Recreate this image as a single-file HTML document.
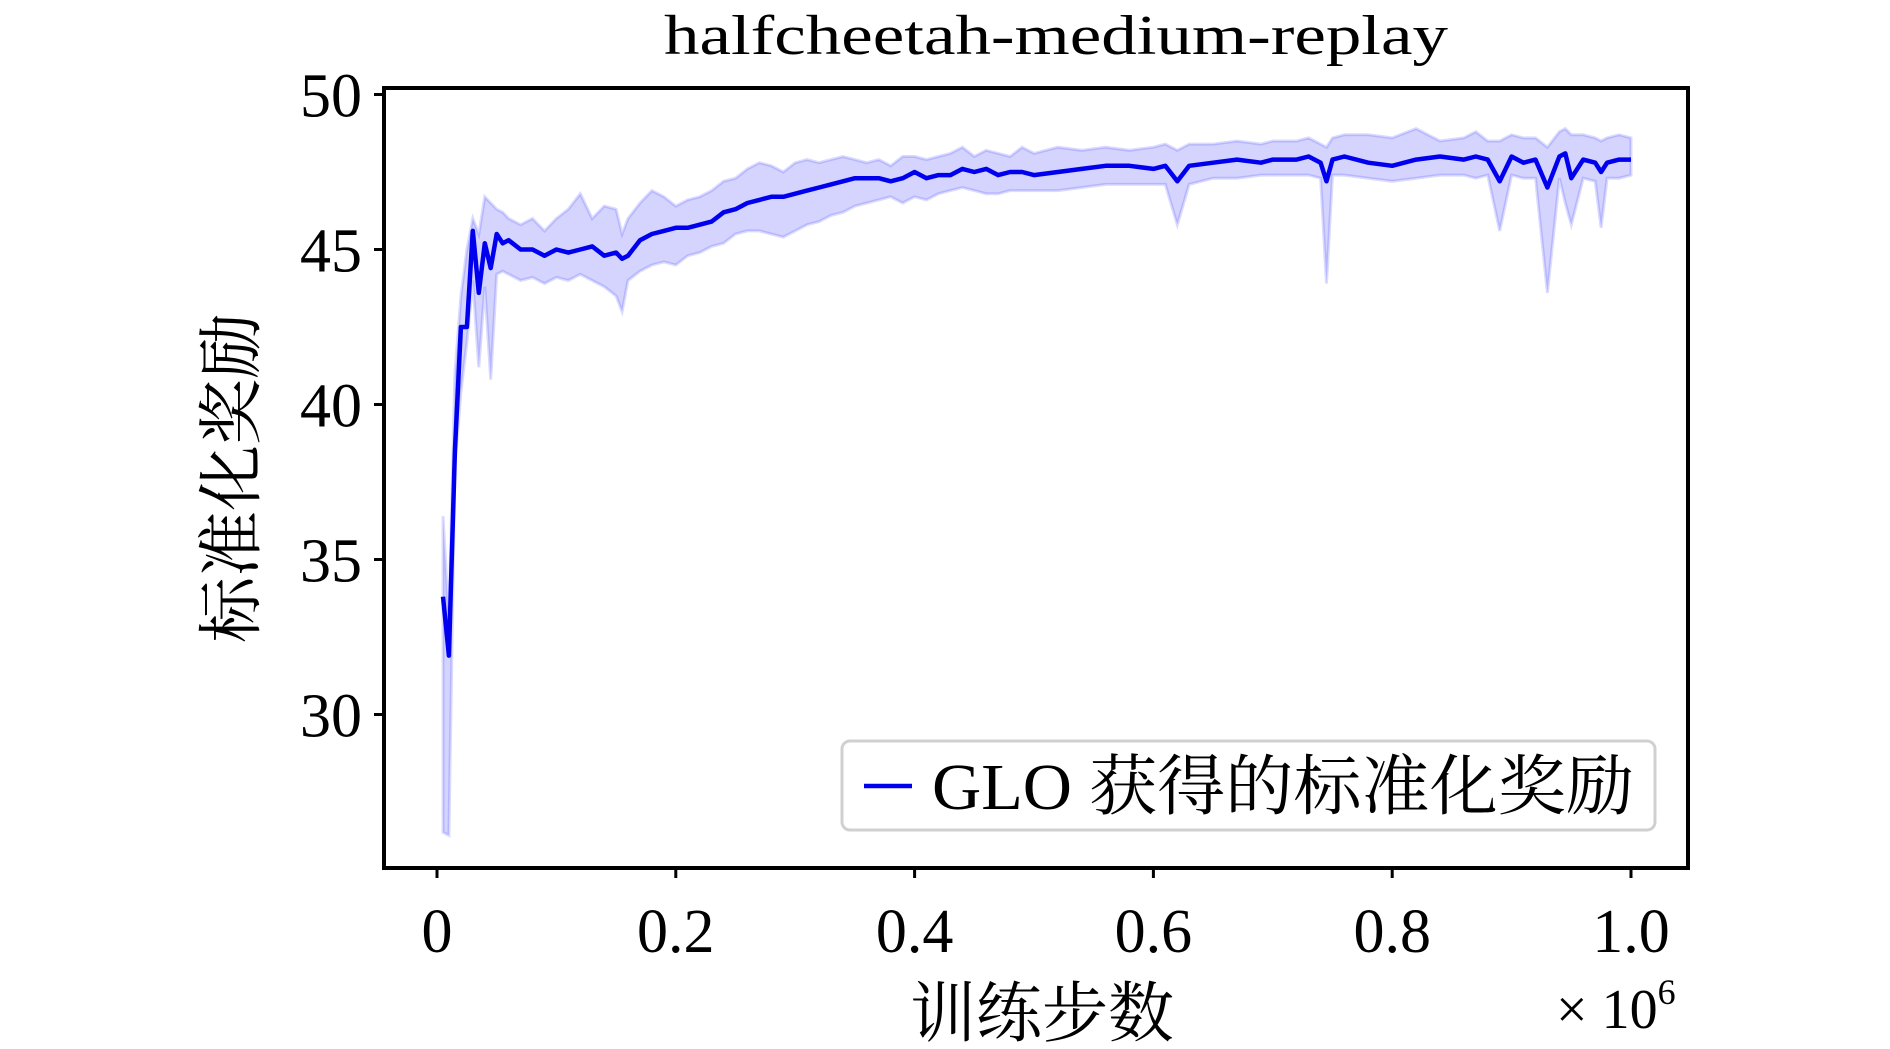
<!DOCTYPE html>
<html><head><meta charset="utf-8"><style>
html,body{margin:0;padding:0;background:#fff;}
svg text{font-family:"Liberation Serif","Noto Serif CJK SC",serif;fill:#000;}
.cjk{font-family:"Liberation Serif","Noto Serif CJK SC","Noto Sans CJK SC",serif;}
</style></head><body>
<svg id="chart" width="1890" height="1044" viewBox="0 0 1890 1044" xmlns="http://www.w3.org/2000/svg">
<text x="664" y="54" font-size="56" textLength="784" lengthAdjust="spacingAndGlyphs">halfcheetah-medium-replay</text>
<g id="plot"></g>
<rect x="384" y="88" width="1304" height="780" fill="none" stroke="#000" stroke-width="4"/>
<g id="axes"></g>
<text class="cjk" font-size="66" text-anchor="middle" transform="translate(254,478) rotate(-90)">标准化奖励</text>
<text class="cjk" x="1042" y="1036" font-size="66" text-anchor="middle">训练步数</text>
<text x="1556" y="1028" font-size="56">× 10<tspan font-size="36" dy="-24">6</tspan></text>
<g>
<rect x="842" y="741" width="813" height="89" rx="8" fill="#fff" stroke="#d0d0d0" stroke-width="3"/>
<line x1="864" y1="786" x2="912" y2="786" stroke="#0000ee" stroke-width="4.5"/>
<text class="cjk" x="932" y="809" font-size="66" textLength="702" lengthAdjust="spacingAndGlyphs">GLO 获得的标准化奖励</text>
</g>
</svg>
<script>
const xs=[0.005,0.01,0.015,0.02,0.025,0.03,0.035,0.04,0.045,0.05,0.055,0.06,0.07,0.08,0.09,0.10,0.11,0.12,0.13,0.14,0.15,0.155,0.16,0.17,0.18,0.19,0.20,0.21,0.22,0.23,0.24,0.25,0.26,0.27,0.28,0.29,0.30,0.31,0.32,0.33,0.34,0.35,0.36,0.37,0.38,0.39,0.40,0.41,0.42,0.43,0.44,0.45,0.46,0.47,0.48,0.49,0.50,0.52,0.54,0.56,0.58,0.60,0.61,0.62,0.63,0.65,0.67,0.69,0.70,0.72,0.73,0.74,0.745,0.75,0.76,0.78,0.80,0.82,0.84,0.86,0.87,0.88,0.89,0.90,0.91,0.92,0.93,0.94,0.945,0.95,0.96,0.97,0.975,0.98,0.99,1.0];
const meanVals=[33.8,31.9,38.5,42.5,42.5,45.6,43.6,45.2,44.4,45.5,45.2,45.3,45.0,45.0,44.8,45.0,44.9,45.0,45.1,44.8,44.9,44.7,44.8,45.3,45.5,45.6,45.7,45.7,45.8,45.9,46.2,46.3,46.5,46.6,46.7,46.7,46.8,46.9,47.0,47.1,47.2,47.3,47.3,47.3,47.2,47.3,47.5,47.3,47.4,47.4,47.6,47.5,47.6,47.4,47.5,47.5,47.4,47.5,47.6,47.7,47.7,47.6,47.7,47.2,47.7,47.8,47.9,47.8,47.9,47.9,48.0,47.8,47.2,47.9,48.0,47.8,47.7,47.9,48.0,47.9,48.0,47.9,47.2,48.0,47.8,47.9,47.0,48.0,48.1,47.3,47.9,47.8,47.5,47.8,47.9,47.9];
const lowVals=[26.2,26.1,38.0,40.4,42.0,44.0,41.2,43.8,40.8,44.2,44.3,44.2,44.0,44.1,43.9,44.1,44.0,44.2,44.0,43.8,43.5,43.0,44.0,44.3,44.5,44.6,44.5,44.8,44.9,45.1,45.2,45.5,45.6,45.6,45.5,45.4,45.6,45.8,45.9,46.1,46.2,46.4,46.5,46.6,46.7,46.5,46.7,46.6,46.8,46.9,47.0,46.9,46.8,46.8,46.9,46.9,46.9,46.9,47.0,47.1,47.1,47.1,47.1,45.8,47.1,47.3,47.3,47.4,47.4,47.4,47.4,47.3,43.9,47.4,47.4,47.3,47.2,47.3,47.4,47.4,47.3,47.4,45.6,47.4,47.3,47.3,43.6,47.3,46.5,45.8,47.3,47.2,45.7,47.3,47.3,47.4];
const highVals=[36.4,33.0,41.0,43.5,45.0,46.0,45.5,46.7,46.5,46.3,46.2,46.0,45.8,46.0,45.6,46.0,46.3,46.8,46.0,46.4,46.3,45.5,46.0,46.5,46.9,46.7,46.4,46.6,46.7,46.9,47.2,47.3,47.6,47.8,47.7,47.5,47.8,47.9,47.8,47.9,48.0,47.9,47.8,47.9,47.7,48.0,48.0,47.9,48.0,48.1,48.3,48.0,48.2,48.1,48.0,48.3,48.1,48.3,48.2,48.3,48.2,48.3,48.4,48.2,48.4,48.4,48.5,48.4,48.5,48.5,48.6,48.4,48.3,48.6,48.7,48.7,48.6,48.9,48.5,48.6,48.8,48.5,48.5,48.7,48.6,48.6,48.3,48.8,48.9,48.7,48.7,48.6,48.5,48.6,48.7,48.6];
const xTicks=[0,0.2,0.4,0.6,0.8,1.0];
const xTickLabels=["0","0.2","0.4","0.6","0.8","1.0"];
const yTicks=[30,35,40,45,50];
const yTickLabels=["30","35","40","45","50"];

const NS="http://www.w3.org/2000/svg";
const X=v=>437+(v-0)*(1631-437);
const Y=v=>94.5+(50-v)*(714.5-94.5)/20;
const n=Math.min(xs.length,meanVals.length,lowVals.length,highVals.length);
const plot=document.getElementById('plot');
const axes=document.getElementById('axes');

let up=[],dn=[],mp=[];
for(let i=0;i<n;i++){up.push(X(xs[i]).toFixed(1)+','+Y(highVals[i]).toFixed(1));dn.push(X(xs[i]).toFixed(1)+','+Y(lowVals[i]).toFixed(1));mp.push(X(xs[i]).toFixed(1)+','+Y(meanVals[i]).toFixed(1));}
const band=document.createElementNS(NS,'polygon');


band.setAttribute('points',up.concat(dn.slice().reverse()).join(' '));
band.setAttribute('fill','rgba(0,0,255,0.17)');
band.setAttribute('stroke','rgba(0,0,255,0.14)');
band.setAttribute('stroke-width','3');
plot.appendChild(band);
const line=document.createElementNS(NS,'polyline');


line.setAttribute('points',mp.join(' '));
line.setAttribute('fill','none');
line.setAttribute('stroke','#0000ee');
line.setAttribute('stroke-width','4.5');
line.setAttribute('stroke-linejoin','round');
plot.appendChild(line);

xTicks.forEach((t,i)=>{
  const tk=document.createElementNS(NS,'line');
  
  
  tk.setAttribute('x1',X(t));tk.setAttribute('x2',X(t));tk.setAttribute('y1',868);tk.setAttribute('y2',878);
  tk.setAttribute('stroke','#000');tk.setAttribute('stroke-width','3');
  axes.appendChild(tk);
  const lb=document.createElementNS(NS,'text');
  
  
  lb.setAttribute('x',X(t));lb.setAttribute('y',952);lb.setAttribute('font-size','62');lb.setAttribute('text-anchor','middle');
  lb.textContent=xTickLabels[i];
  axes.appendChild(lb);
});
yTicks.forEach((t,i)=>{
  const tk=document.createElementNS(NS,'line');
  
  
  tk.setAttribute('x1',374);tk.setAttribute('x2',384);tk.setAttribute('y1',Y(t));tk.setAttribute('y2',Y(t));
  tk.setAttribute('stroke','#000');tk.setAttribute('stroke-width','3');
  axes.appendChild(tk);
  const lb=document.createElementNS(NS,'text');
  
  
  lb.setAttribute('x',362);lb.setAttribute('y',Y(t)+22);lb.setAttribute('font-size','62');lb.setAttribute('text-anchor','end');
  lb.textContent=yTickLabels[i];
  axes.appendChild(lb);
});
</script>
</body></html>
